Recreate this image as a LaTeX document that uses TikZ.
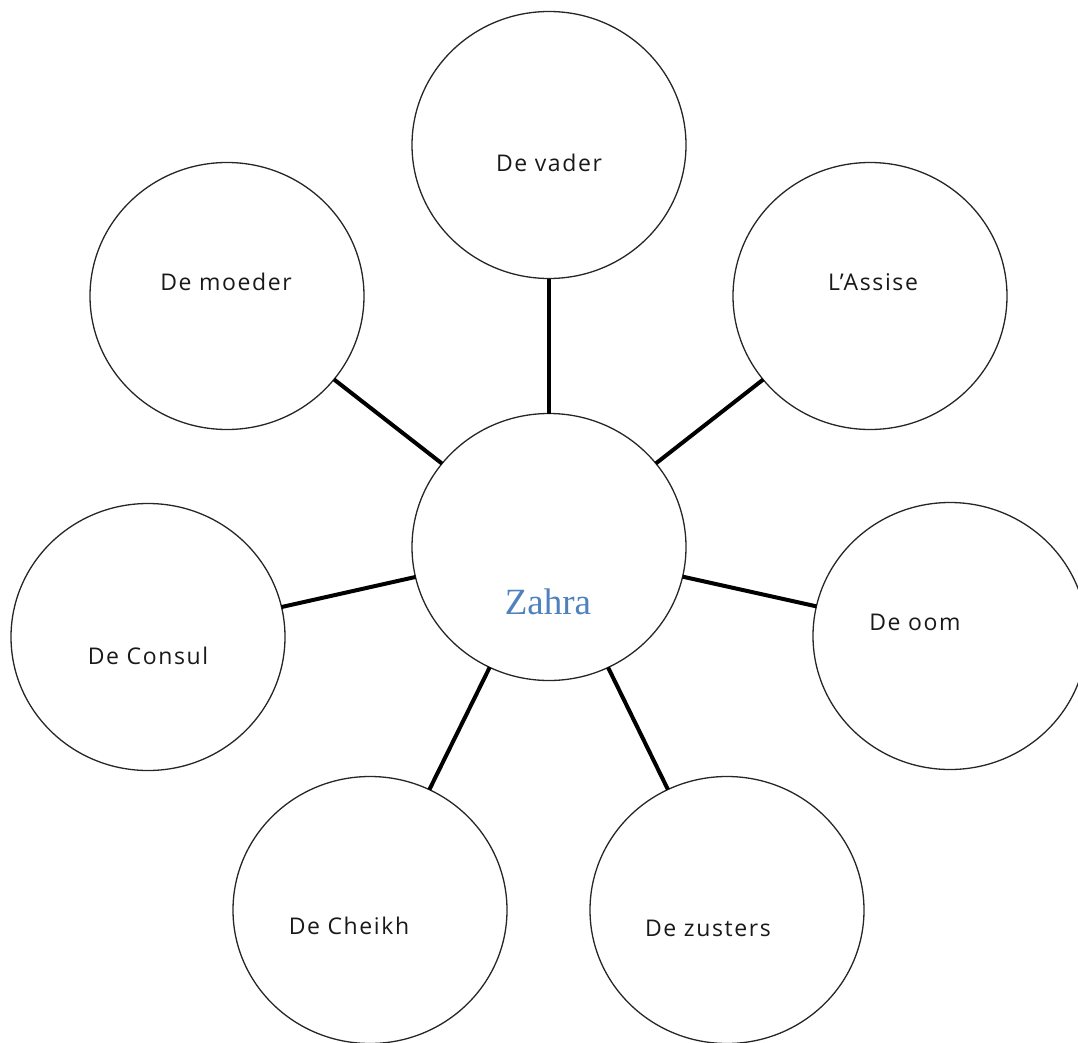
\documentclass[tikz,border=0pt]{standalone}
\usepackage{fontspec}
\setmainfont{Liberation Serif}
\newfontfamily\labelfont[LetterSpace=7]{Open Sans}
\usetikzlibrary{shapes.geometric}
\definecolor{zblue}{RGB}{79,129,189}
\begin{document}
\begin{tikzpicture}[x=1pt,y=-1pt,
  bubble/.style={ellipse,draw=black!85,line width=1.3pt,minimum width=274pt,minimum height=267pt,inner sep=0pt,outer sep=0pt},
  lbl/.style={font=\labelfont\fontsize{23}{27}\selectfont,text=black!90,inner sep=0pt},
  conn/.style={line width=4pt,black}]
\useasboundingbox (0,0) rectangle (1078,1043);
\begin{scope}
\clip (0,0) rectangle (1078,1043);
\node[bubble] (zahra) at (549,547) {};
\node[bubble] (vader) at (549,145) {};
\node[bubble] (moeder) at (227,296) {};
\node[bubble] (assise) at (870,296) {};
\node[bubble] (consul) at (148,637) {};
\node[bubble] (oom) at (950,636) {};
\node[bubble] (cheikh) at (370,910) {};
\node[bubble] (zusters) at (727,910) {};
\draw[conn] (zahra) -- (vader);
\draw[conn] (zahra) -- (moeder);
\draw[conn] (zahra) -- (assise);
\draw[conn] (zahra) -- (consul);
\draw[conn] (zahra) -- (oom);
\draw[conn] (zahra) -- (cheikh);
\draw[conn] (zahra) -- (zusters);
\node[lbl] (tvader) at (549,163) {De vader};
\node[lbl] (tmoeder) at (226,282) {De moeder};
\node[lbl] (tassise) at (873,282) {L’Assise};
\node[lbl] (tconsul) at (148,656) {De Consul};
\node[lbl] (toom) at (915,622) {De oom};
\node[lbl] (tcheikh) at (349,926) {De Cheikh};
\node[lbl] (tzusters) at (708,928) {De zusters};
\node[font=\fontsize{37}{42}\selectfont,text=zblue,inner sep=0pt] (tzahra) at (548,602) {Zahra};
\end{scope}
\end{tikzpicture}
\end{document}
